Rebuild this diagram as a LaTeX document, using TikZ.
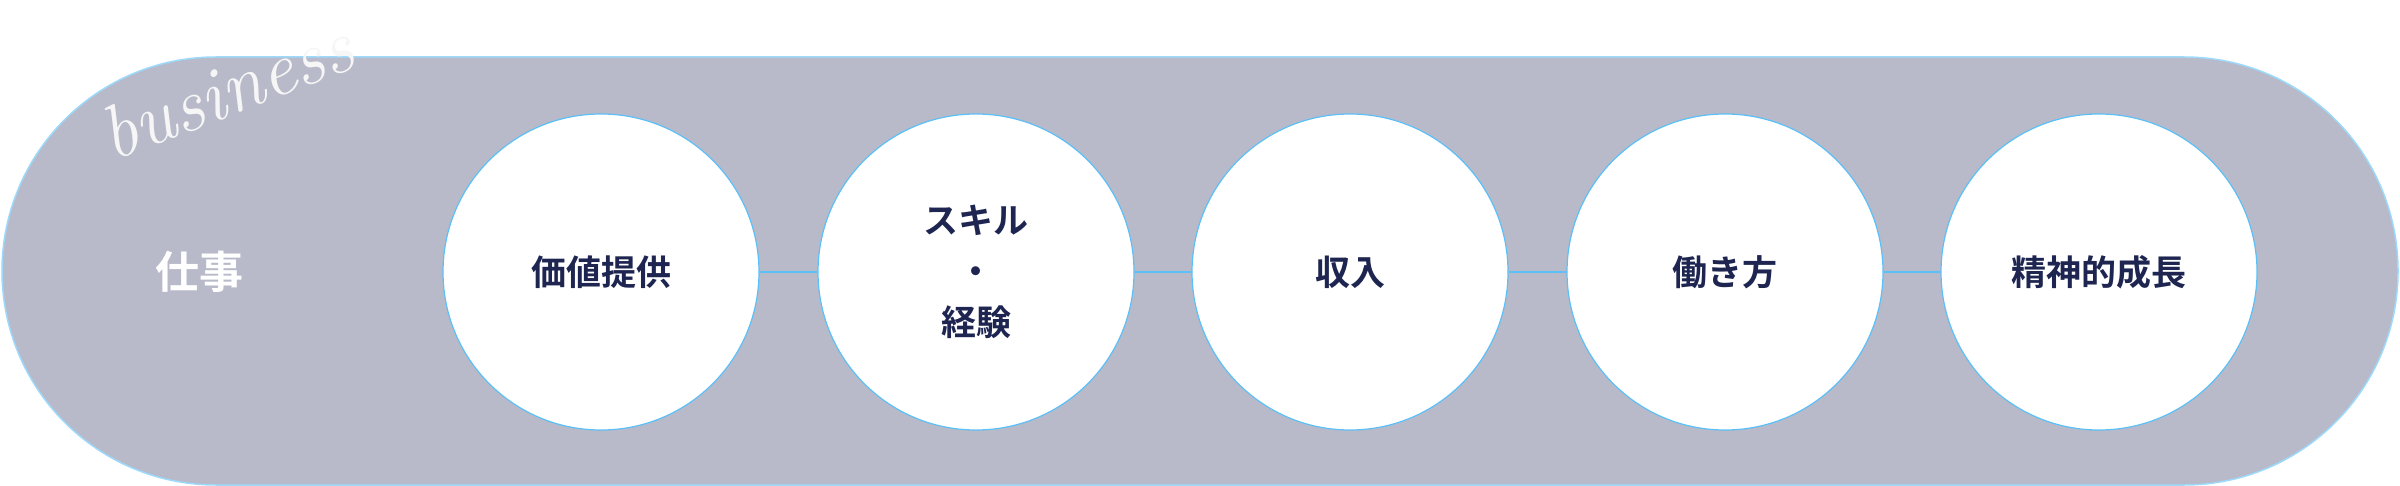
\documentclass[tikz,border=0pt]{standalone}
\usepackage{fontspec}
\newfontfamily\cjk{Noto Sans CJK JP Bold}
\definecolor{pillfill}{HTML}{B8BAC9}
\definecolor{edge}{HTML}{5BC0F8}
\definecolor{navy}{HTML}{1D2550}
\begin{document}
\begin{tikzpicture}[x=1pt,y=-1pt,
  step circle/.style={circle,draw=edge,line width=1.2pt,fill=white,minimum size=316pt,inner sep=0pt,font=\cjk\fontsize{35}{51}\selectfont,text=navy,align=center},
  link/.style={draw=edge,line width=1.5pt}]
\useasboundingbox (0,0) rectangle (2400,486);
\node[draw=edge!60,line width=1.5pt,fill=pillfill,rounded corners=214pt,minimum width=2396pt,minimum height=428pt,inner sep=0pt] (pill) at (1200,271) {};
\node[font=\cjk\fontsize{44}{50}\selectfont,text=white] (work) at (199,272) {仕事};
\node[step circle] (c1) at (601,272) {価値提供};
\node[step circle] (c2) at (976,272) {スキル\\・\\経験};
\node[step circle] (c3) at (1350,272) {収入};
\node[step circle] (c4) at (1725,272) {働き方};
\node[step circle] (c5) at (2099,272) {精神的成長};
\draw[link] (c1) -- (c2);
\draw[link] (c2) -- (c3);
\draw[link] (c3) -- (c4);
\draw[link] (c4) -- (c5);
\node[rotate=21,text=white!93!gray,font=\itshape\fontsize{76}{76}\selectfont] (biz) at (226,90) {business};
\end{tikzpicture}
\end{document}
